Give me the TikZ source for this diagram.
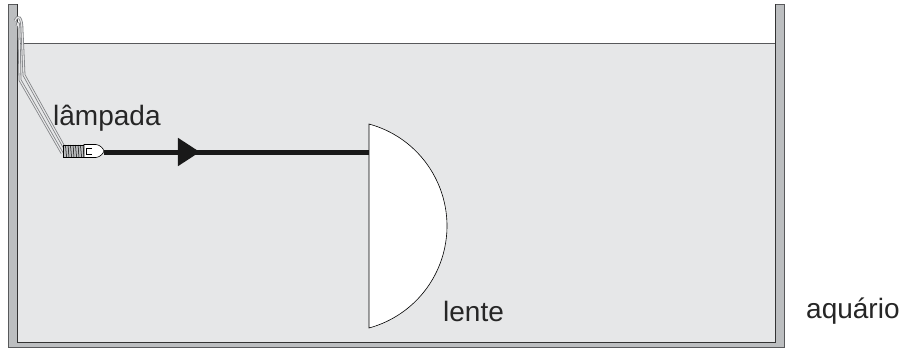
\documentclass[tikz,border=0pt]{standalone}
\usepackage{fontspec}
\setmainfont{Liberation Sans}
\usetikzlibrary{arrows.meta,decorations.markings}

\definecolor{wallgray}{HTML}{BCBEC0}
\definecolor{waterfill}{HTML}{E6E7E8}
\definecolor{edgegray}{HTML}{58595B}
\definecolor{wiregray}{HTML}{808285}

\tikzset{
  label/.style={font=\fontsize{28}{30}\selectfont, text=black!85, inner sep=0pt},
  wire/.style={draw=wiregray, line width=0.8pt, double=white!80!wiregray, double distance=1.2pt},
  ray/.style={line width=5pt, black!90,
    postaction={decorate, decoration={markings,
      mark=at position 0.362 with {\arrow{Triangle[length=22pt,width=27pt]}}}}},
}

\begin{document}
\begin{tikzpicture}[x=1pt,y=-1pt]
  \useasboundingbox (0,0) rectangle (906,348);

  % Aquarium: walls and water
  \fill[wallgray, draw=edgegray, line width=0.6pt]
    (8,4) -- (8,347) -- (784,347) -- (784,4) -- (775,4) -- (775,342) -- (17,342) -- (17,4) -- cycle;
  \fill[waterfill] (17,43) rectangle (775,342);
  \draw[edgegray, line width=0.8pt] (17,43) -- (775,43);
  \draw[black!80, line width=1pt] (17,4) -- (17,342) -- (775,342) -- (775,4);

  % Wires hanging over the left wall
  \draw[wire] (15,21) .. controls (18,14) and (22,17) .. (22,30) -- (24,75) -- (64,147);
  \draw[wire] (17,26) .. controls (18,21) and (19,23) .. (19,33) -- (20,80) -- (62,153);

  % Lamp: socket and bulb
  \draw[black, line width=0.6pt, fill=wallgray] (63,145) rectangle (84,157);
  \foreach \tx in {65.5,68,...,83}
    \draw[black, line width=0.5pt] (\tx,145) -- (\tx+1,157);
  \draw[black, line width=0.6pt, fill=white]
    (84,144.5) -- (96,144.5) .. controls (100,145) and (103,148) .. (104,151)
    .. controls (103,154) and (100,157) .. (96,157.5) -- (84,157.5) -- cycle;
  \draw[black, line width=0.5pt] (92,148.5) -- (86,148.5) -- (86,154) -- (92,154);
  \coordinate (lamp) at (104,152);

  % Lens
  \draw[black, line width=0.6pt, fill=white]
    (369,124) arc[start angle=-74.8, end angle=74.8, radius=105.7] -- cycle;
  \coordinate (hit) at (369,152);

  % Light ray
  \draw[ray] (lamp) -- (hit);

  % Labels
  \node[label, anchor=base west] (lampada) at (53,125) {lâmpada};
  \node[label, anchor=base west] (lente) at (443,321) {lente};
  \node[label, anchor=base west] (aquario) at (806,318) {aquário};
\end{tikzpicture}
\end{document}
